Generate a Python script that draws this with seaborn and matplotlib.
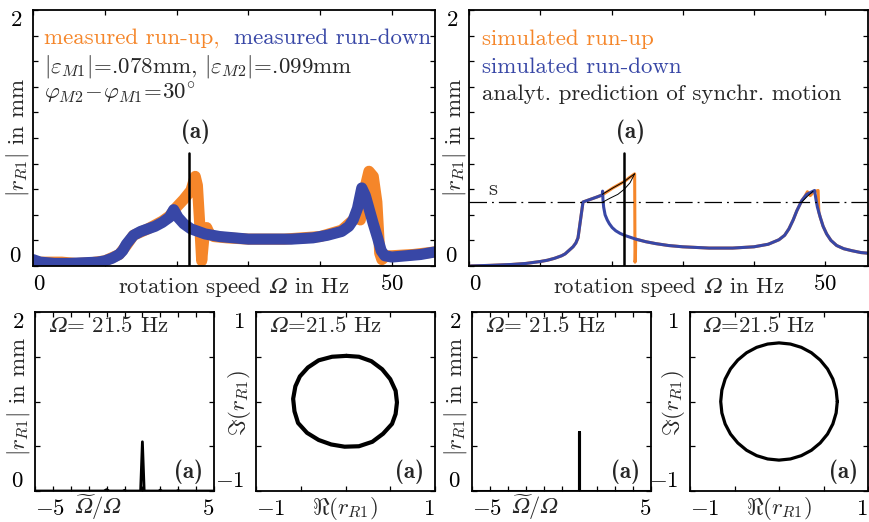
import numpy as np
import seaborn as sns
import matplotlib.pyplot as plt

sns.set_style("ticks")
plt.rcParams['font.family'] = ['cmr10', 'DejaVu Serif']
plt.rcParams['mathtext.fontset'] = 'cm'
plt.rcParams['axes.formatter.use_mathtext'] = True
plt.rcParams['axes.unicode_minus'] = False
plt.rcParams['font.size'] = 16.5
plt.rcParams['axes.linewidth'] = 1.3

ORANGE = "#f5862a"
BLUE = "#3847a6"
OM = "𝛺"  # italic capital omega

# measured run-up / run-down (top left)
meas_up_hz = [0, 2, 4, 6, 8, 10, 12, 13, 14, 16, 18, 19, 20, 21, 22, 22.6, 22.9, 23.2, 23.5, 23.8,
              24.2, 24.6, 25.2, 27, 30, 35, 40, 43, 45, 45.6, 46.2, 46.8, 47.4, 47.9, 48.3, 48.6, 49.2, 50, 53, 56]
meas_up_amp = [0.03, 0.03, 0.03, 0.02, 0.025, 0.04, 0.09, 0.16, 0.24, 0.29, 0.35, 0.39, 0.46, 0.52, 0.59, 0.7, 0.63, 0.35, 0.04, 0.22,
               0.3, 0.25, 0.23, 0.22, 0.21, 0.21, 0.23, 0.28, 0.38, 0.36, 0.6, 0.74, 0.7, 0.5, 0.1, 0.05, 0.08, 0.08, 0.09, 0.11]
meas_down_hz = [0, 1, 3, 5, 7, 9, 10, 11, 12, 12.5, 13, 14, 15, 16, 17, 18, 19, 19.6, 20.2, 21,
                22, 23, 24, 26, 28, 30, 33, 36, 39, 41, 43, 44, 44.6, 45.2, 45.8, 46.3, 46.8, 47.4, 48, 48.5,
                49, 50, 52, 54, 56]
meas_down_amp = [0.05, 0.03, 0.02, 0.02, 0.025, 0.03, 0.04, 0.06, 0.09, 0.12, 0.17, 0.24, 0.27, 0.29, 0.31, 0.34, 0.38, 0.44, 0.38, 0.33,
                 0.29, 0.27, 0.25, 0.23, 0.22, 0.21, 0.21, 0.21, 0.22, 0.24, 0.27, 0.31, 0.36, 0.45, 0.61, 0.55, 0.45, 0.33, 0.22, 0.12,
                 0.08, 0.07, 0.08, 0.09, 0.11]

# simulated run-up / run-down (top right)
sim_rise_hz = [0, 3, 6, 8, 10, 11, 12, 13, 13.5, 14, 14.6, 15, 15.3, 15.5, 15.7, 15.85, 16, 17, 18, 18.7]
sim_rise_amp = [0, 0.005, 0.012, 0.02, 0.035, 0.045, 0.06, 0.08, 0.095, 0.12, 0.15, 0.18, 0.22, 0.3, 0.38, 0.44, 0.5, 0.52, 0.54, 0.555]
sim_down_hz = sim_rise_hz + [18.75, 18.8, 18.9, 19.1, 19.4, 19.7, 20.1, 20.6, 21.2, 21.8,
                             22.6, 23.4, 24.8, 26.2, 28, 30, 33.7, 37, 40, 42,
                             43.5, 44.3, 44.9, 45.5, 46, 46.7, 47.4, 48.5, 48.7, 48.9,
                             49.3, 49.7, 50.2, 50.8, 51.6, 52.6, 53.7, 55, 56]
sim_down_amp = sim_rise_amp + [0.585, 0.52, 0.46, 0.4, 0.36, 0.33, 0.3, 0.275, 0.255, 0.24,
                               0.225, 0.21, 0.19, 0.175, 0.16, 0.15, 0.14, 0.14, 0.15, 0.17,
                               0.205, 0.24, 0.29, 0.36, 0.43, 0.51, 0.56, 0.59, 0.52, 0.46,
                               0.38, 0.31, 0.25, 0.2, 0.16, 0.135, 0.12, 0.105, 0.1]
sim_up_hz = sim_rise_hz + [20.2, 21, 21.8, 22.5, 23.25, 23.3, 23.35, 23.4, 24.8, 26.2,
                           28, 30, 33.7, 37, 40, 42, 43.5, 44.3, 44.9, 45.5,
                           46, 46.7, 47.2, 47.5, 47.9, 48.4, 49, 49.1, 49.3, 49.7,
                           50.2, 50.8, 51.6, 52.6, 53.7, 55, 56]
sim_up_amp = sim_rise_amp + [0.61, 0.635, 0.66, 0.69, 0.72, 0.03, 0.05, 0.21, 0.19, 0.175,
                             0.16, 0.15, 0.14, 0.14, 0.15, 0.17, 0.205, 0.24, 0.29, 0.36,
                             0.43, 0.51, 0.55, 0.58, 0.55, 0.58, 0.59, 0.42, 0.38, 0.31,
                             0.25, 0.2, 0.16, 0.135, 0.12, 0.105, 0.1]

# analytical prediction of synchronous motion
ana_upper_hz = [18.7, 20.2, 21, 21.8, 22.5, 23.25]
ana_upper_amp = [0.56, 0.61, 0.635, 0.66, 0.69, 0.72]
ana_lower_hz = [18.8, 19.8, 20.9, 21.8, 22.6, 23.25]
ana_lower_amp = [0.50, 0.53, 0.56, 0.60, 0.65, 0.72]
ana2_hz = [46.7, 47.5, 48.3]
ana2_amp = [0.50, 0.545, 0.585]
s_level = 0.5
omega_sel = 21.8

# spectra at Omega = 21.5 Hz
meas_ratio = [-5, -1.15, -1, -0.85, -0.1, 0, 0.1, 0.9, 1, 1.1, 1.9, 2, 2.1, 2.9, 3, 3.1, 5]
meas_spec = [0, 0, 0.015, 0, 0, 0.008, 0, 0, 0.55, 0, 0, 0.01, 0, 0, 0.006, 0, 0]
sim_ratio = [-5, 1, 1, 1, 5]
sim_spec = [0, 0, 0.66, 0, 0]

# orbits at Omega = 21.5 Hz
meas_re = [0.01, 0.15, 0.29, 0.41, 0.50, 0.56, 0.575, 0.56, 0.52, 0.42, 0.30, 0.15, -0.01,
           -0.16, -0.30, -0.43, -0.53, -0.57, -0.585, -0.56, -0.51, -0.42, -0.30, -0.15, 0.01]
meas_im = [0.51, 0.50, 0.45, 0.36, 0.25, 0.12, -0.01, -0.14, -0.25, -0.36, -0.45, -0.50, -0.505,
           -0.48, -0.43, -0.35, -0.24, -0.11, 0.03, 0.17, 0.28, 0.38, 0.46, 0.50, 0.51]
sim_re = [0.655, 0.642, 0.605, 0.545, 0.463, 0.364, 0.251, 0.128, 0, -0.128, -0.251, -0.364, -0.463, -0.545, -0.605, -0.642,
          -0.655, -0.642, -0.605, -0.545, -0.463, -0.364, -0.251, -0.128, 0, 0.128, 0.251, 0.364, 0.463, 0.545, 0.605, 0.642, 0.655]
sim_im = [0, 0.128, 0.251, 0.364, 0.463, 0.545, 0.605, 0.642, 0.655, 0.642, 0.605, 0.545, 0.463, 0.364, 0.251, 0.128,
          0, -0.128, -0.251, -0.364, -0.463, -0.545, -0.605, -0.642, -0.655, -0.642, -0.605, -0.545, -0.463, -0.364, -0.251, -0.128, 0]


def frame(ax, xlim, ylim, xticks, yticks, xlab, ylab, edge_x_right):
    ax.set_xlim(xlim)
    ax.set_ylim(ylim)
    ax.set_xticks(xticks)
    ax.set_yticks(yticks)
    ax.set_xticklabels([xlab.get(round(t, 3), "") for t in xticks])
    ax.set_yticklabels([ylab.get(round(t, 3), "") for t in yticks])
    ax.tick_params(direction="in", top=True, right=True, length=3.5, width=0.9,
                   colors="black", labelsize=16.5)
    ax.tick_params(axis="x", pad=6)
    ax.tick_params(axis="y", pad=8)
    xl = [t for t in ax.get_xticklabels() if t.get_text()]
    xl[0].set_ha("left")
    if edge_x_right:
        xl[-1].set_ha("right")
    yl = [t for t in ax.get_yticklabels() if t.get_text()]
    yl[0].set_va("bottom")
    yl[-1].set_va("top")
    for sp in ax.spines.values():
        sp.set_color("black")
        sp.set_linewidth(1.3)


def line(ax, x, y, **kw):
    sns.lineplot(x=x, y=y, ax=ax, estimator=None, sort=False, **kw)


def tag(ax, x, y, **kw):
    ax.text(x, y, "(a)", family="cmb10", ha="center", va="center", **kw)


fig = plt.figure(figsize=(8.69, 5.22), dpi=100)
ax_tl = fig.add_axes([33 / 869, 256 / 522, 402 / 869, 256 / 522])
ax_tr = fig.add_axes([469 / 869, 256 / 522, 399 / 869, 256 / 522])
ax_s1 = fig.add_axes([35 / 869, 31 / 522, 179 / 869, 179 / 522])
ax_o1 = fig.add_axes([256 / 869, 31 / 522, 179 / 869, 179 / 522])
ax_s2 = fig.add_axes([472 / 869, 31 / 522, 179 / 869, 179 / 522])
ax_o2 = fig.add_axes([690 / 869, 31 / 522, 178 / 869, 179 / 522])

hz_ticks = list(range(0, 60, 10))
amp_ticks = [round(0.2 * i, 1) for i in range(11)]
hz_label = "rotation speed $" + OM + "$ in Hz"

# top left: measurement
line(ax_tl, meas_up_hz, meas_up_amp, color=ORANGE, linewidth=8, solid_joinstyle="round")
line(ax_tl, meas_down_hz, meas_down_amp, color=BLUE, linewidth=8, solid_joinstyle="round")
ax_tl.plot([omega_sel, omega_sel], [0, 0.88], color="black", lw=1.8)
tag(ax_tl, 22.6, 1.05)
ax_tl.text(1.5, 1.78, "measured run-up,", color=ORANGE, va="center")
ax_tl.text(28.0, 1.78, "measured run-down", color=BLUE, va="center")
ax_tl.text(1.5, 1.555, r"$|\varepsilon_{M1}|\!=\!$.078mm, $|\varepsilon_{M2}|\!=\!$.099mm", va="center")
ax_tl.text(1.5, 1.35, r"$\varphi_{M2}\!-\!\varphi_{M1}\!=\!30^{\circ}$", va="center")
frame(ax_tl, (0, 56), (0, 2), hz_ticks, amp_ticks, {0: "$0$", 50: "$50$"}, {0: "$0$", 2: "$2$"}, False)
ax_tl.set_xlabel(hz_label)
ax_tl.set_ylabel(r"$|r_{R1}|$ in mm")
ax_tl.xaxis.set_label_coords(0.5, -0.035)
ax_tl.yaxis.set_label_coords(-0.005, 0.5)

# top right: simulation
line(ax_tr, sim_up_hz, sim_up_amp, color=ORANGE, linewidth=2.2)
line(ax_tr, sim_down_hz, sim_down_amp, color=BLUE, linewidth=2.2)
for hx, hy in [(ana_upper_hz, ana_upper_amp), (ana_lower_hz, ana_lower_amp), (ana2_hz, ana2_amp)]:
    line(ax_tr, hx, hy, color="black", linewidth=0.7)
ax_tr.axhline(s_level, color="black", lw=0.9, linestyle=(0, (14, 4, 1.5, 4)))
ax_tr.plot([omega_sel, omega_sel], [0, 0.88], color="black", lw=1.8)
tag(ax_tr, 22.6, 1.05)
ax_tr.text(3.4, 0.6, "s", ha="center", va="center")
ax_tr.text(1.8, 1.77, "simulated run-up", color=ORANGE, va="center")
ax_tr.text(1.8, 1.555, "simulated run-down", color=BLUE, va="center")
ax_tr.text(1.8, 1.34, "analyt. prediction of synchr. motion", va="center")
frame(ax_tr, (0, 56), (0, 2), hz_ticks, amp_ticks, {0: "$0$", 50: "$50$"}, {0: "$0$", 2: "$2$"}, False)
ax_tr.set_xlabel(hz_label)
ax_tr.set_ylabel(r"$|r_{R1}|$ in mm")
ax_tr.xaxis.set_label_coords(0.5, -0.035)
ax_tr.yaxis.set_label_coords(-0.003, 0.5)

ratio_ticks = list(range(-5, 6))
spec_ticks = [0, 0.5, 1, 1.5, 2]
orb_ticks = [-1, -0.5, 0, 0.5, 1]

for ax_s, ax_o, rx, ry, ox, oy, lw_s, lw_o in [
        (ax_s1, ax_o1, meas_ratio, meas_spec, meas_re, meas_im, 2.0, 3.0),
        (ax_s2, ax_o2, sim_ratio, sim_spec, sim_re, sim_im, 2.2, 2.3)]:
    line(ax_s, rx, ry, color="black", linewidth=lw_s)
    frame(ax_s, (-5, 5), (0, 2), ratio_ticks, spec_ticks, {-5: "$-5$", 5: "$5$"}, {0: "$0$", 2: "$2$"}, True)
    ax_s.text(0.07, 0.92, "$" + OM + "$= 21.5 Hz", transform=ax_s.transAxes, va="center")
    tag(ax_s, 0.86, 0.11, transform=ax_s.transAxes)
    ax_s.set_xlabel(r"$\widetilde{" + OM + "}/" + OM + "$", fontsize=16)
    ax_s.set_ylabel(r"$|r_{R1}|$ in mm")
    ax_s.xaxis.set_label_coords(0.35, -0.006)
    ax_s.yaxis.set_label_coords(-0.015, 0.53)

    line(ax_o, ox, oy, color="black", linewidth=lw_o)
    frame(ax_o, (-1, 1), (-1, 1), orb_ticks, orb_ticks, {-1: "$-1$", 1: "$1$"}, {-1: "$-1$", 1: "$1$"}, True)
    ax_o.text(0.07, 0.92, "$" + OM + "$=21.5 Hz", transform=ax_o.transAxes, va="center")
    tag(ax_o, 0.86, 0.11, transform=ax_o.transAxes)
    ax_o.set_xlabel(r"$\Re(r_{R1})$")
    ax_o.set_ylabel(r"$\Im(r_{R1})$")
    ax_o.xaxis.set_label_coords(0.5, -0.02)
    ax_o.yaxis.set_label_coords(-0.015, 0.49)

fig.savefig("out.png", dpi=100)
